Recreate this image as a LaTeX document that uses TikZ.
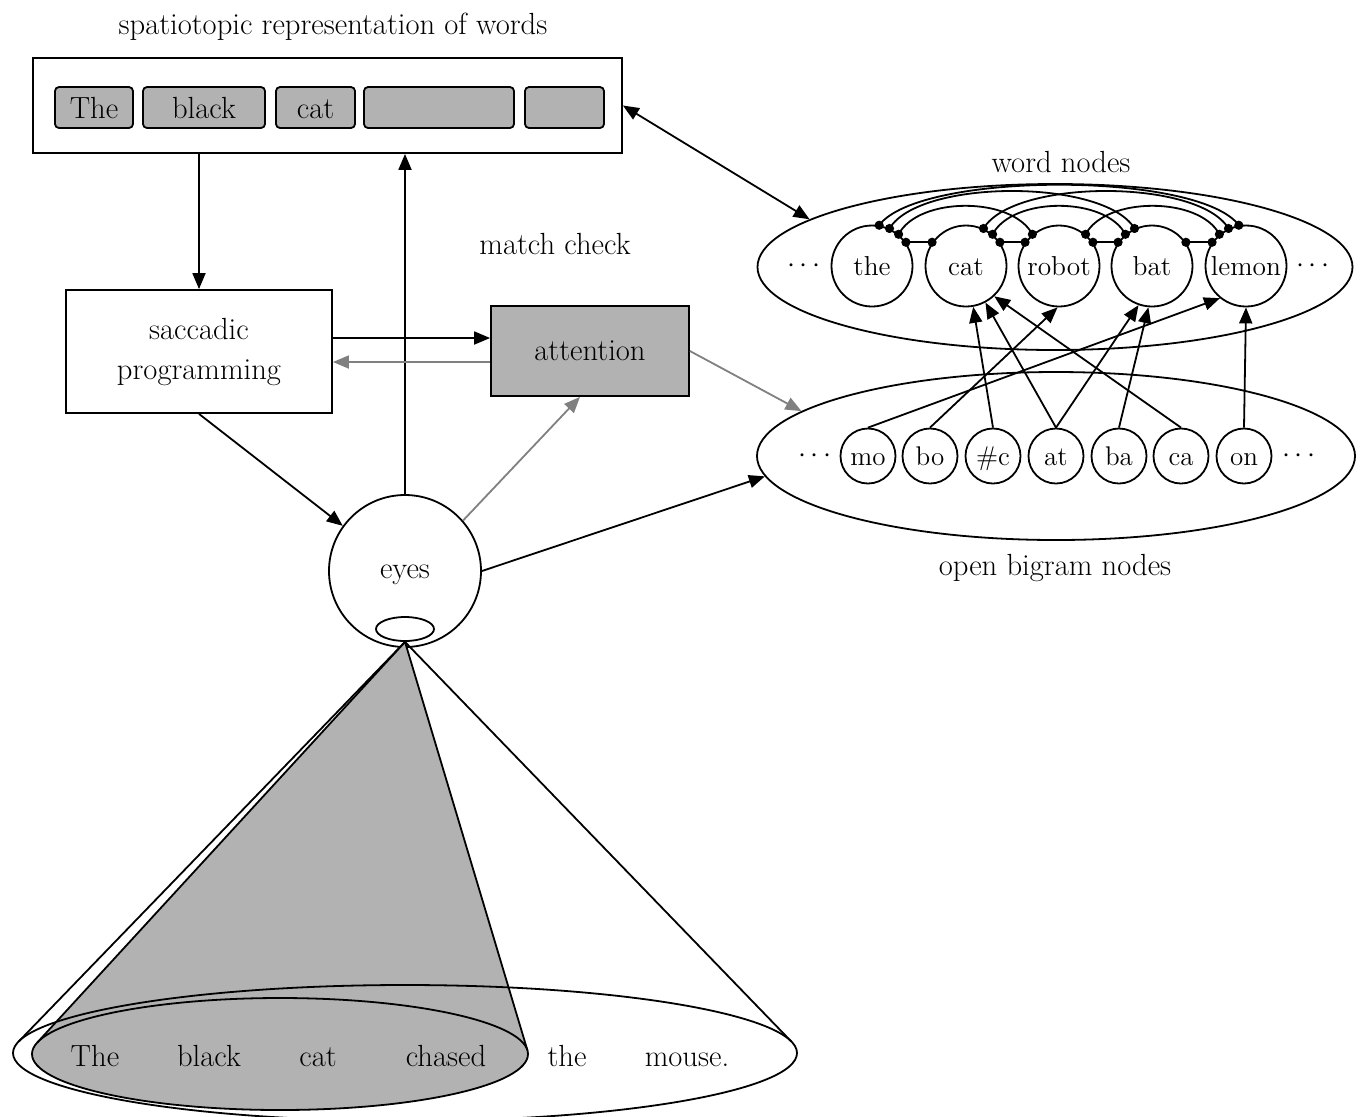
\documentclass[tikz,border=0pt]{standalone}
\usetikzlibrary{arrows.meta,shapes.geometric,calc}
\definecolor{boxgray}{gray}{0.70}
\definecolor{arrgray}{gray}{0.50}
\begin{document}
\begin{tikzpicture}[x=0.5pt,y=-0.5pt,
  every node/.style={font=\fontsize{15.3}{20}\selectfont},
  lw/.style={line width=0.9pt},
  arr/.style={lw,-{Triangle[length=8pt,width=6.5pt]}},
  garr/.style={arr,color=arrgray},
  darr/.style={lw,{Triangle[length=8pt,width=6.5pt]}-{Triangle[length=8pt,width=6.5pt]}},
  wbox/.style={draw,lw,fill=boxgray,rounded corners=2pt,minimum height=20.5pt,inner sep=0pt,text height=10.5pt,text depth=0pt},
  wcirc/.style={circle,draw,lw,minimum size=40.5pt,inner sep=0pt,font=\fontsize{13.7}{16}\selectfont,text height=9.5pt,text depth=0pt},
  bcirc/.style={circle,draw,lw,minimum size=27.5pt,inner sep=0pt,font=\fontsize{13.5}{16}\selectfont,text height=9pt,text depth=0pt},
  bigell/.style={ellipse,draw,lw,inner sep=0pt}]
\useasboundingbox (0,0) rectangle (1362,1116);

% ---------- spatiotopic representation ----------
\node (title) at (333,27) {spatiotopic representation of words};
\node[draw,lw,minimum width=294.5pt,minimum height=47.5pt,inner sep=0pt] (sp) at (327.5,105.5) {};
\node[wbox,minimum width=39pt] (w1) at (94,107.5) {The};
\node[wbox,minimum width=61pt] (w2) at (204,107.5) {black};
\node[wbox,minimum width=39.5pt] (w3) at (315.5,107.5) {cat};
\node[wbox,minimum width=75pt] (w4) at (439,107.5) {};
\node[wbox,minimum width=39.5pt] (w5) at (564.5,107.5) {};

% ---------- control boxes ----------
\node[draw,lw,minimum width=133pt,minimum height=61.5pt,align=center,inner sep=0pt] (sac) at (199,351.5) {saccadic\\programming};
\node[draw,lw,fill=boxgray,minimum width=99pt,minimum height=45pt,inner sep=0pt] (att) at (590,351) {attention};
\node (mc) at (555,244) {match check};

% ---------- eyes ----------
\node[circle,draw,lw,minimum size=76pt,inner sep=0pt,text height=7pt,text depth=0pt] (eyes) at (405,571) {eyes};
\node[ellipse,draw,lw,minimum width=29pt,minimum height=12pt,inner sep=0pt] (pupil) at (405,629) {};

% ---------- word nodes ----------
\node (wnl) at (1061,162) {word nodes};
\node[bigell,minimum width=297.5pt,minimum height=83pt] (wn) at (1055,267) {};
\foreach \n/\x in {the/872,cat/966,robot/1059,bat/1152,lemon/1246}
  \node[wcirc] (\n) at (\x,266) {\n};
\node (wdl) at (804,266) {$\cdots$};
\node (wdr) at (1313,266) {$\cdots$};

% inhibitory links
\draw[lw] (the.35) -- (cat.145);
\draw[lw] (cat.35) -- (robot.145);
\draw[lw] (robot.35) -- (bat.145);
\draw[lw] (bat.35) -- (lemon.145);
\draw[lw] (the.50) .. controls +(20,-38) and +(-20,-38) .. (robot.130);
\draw[lw] (cat.50) .. controls +(20,-38) and +(-20,-38) .. (bat.130);
\draw[lw] (robot.50) .. controls +(20,-38) and +(-20,-38) .. (lemon.130);
\draw[lw] (the.65) .. controls +(30,-50) and +(-30,-50) .. (bat.115);
\draw[lw] (cat.65) .. controls +(30,-50) and +(-30,-50) .. (lemon.115);
\draw[lw] (the.80) .. controls +(40,-54) and +(-40,-54) .. (lemon.100);
\foreach \p in {the.35,the.50,the.65,the.80,cat.145,cat.35,cat.50,cat.65,
  robot.145,robot.130,robot.35,robot.50,bat.145,bat.130,bat.115,bat.35,
  lemon.145,lemon.130,lemon.115,lemon.100}
  \fill (\p) circle[radius=2.3pt];

% ---------- open bigram nodes ----------
\node[bigell,minimum width=299pt,minimum height=84pt] (bn) at (1056,456) {};
\foreach \n/\t/\x in {mo/mo/868,bo/bo/930,hc/\#c/993,at/at/1056,ba/ba/1119,ca/ca/1181,on/on/1244}
  \node[bcirc] (\n) at (\x,456) {\t};
\node (bdl) at (815,456) {$\cdots$};
\node (bdr) at (1299,456) {$\cdots$};
\node (bnl) at (1055,568) {open bigram nodes};

% bigram -> word connections
\draw[arr] (mo.north) -- (lemon.231);
\draw[arr] (bo.north) -- (robot.268);
\draw[arr] (hc.north) -- (cat.280);
\draw[arr] (at.north) -- (cat.298);
\draw[arr] (at.north) -- (bat.251);
\draw[arr] (ba.north) -- (bat.265);
\draw[arr] (ca.north) -- (cat.313);
\draw[arr] (on.north) -- (lemon.south);

% ---------- main connectors ----------
\draw[arr] (sac.north |- sp.south) -- (sac.north);
\draw[arr] (eyes.north) -- (eyes.north |- sp.south);
\draw[arr] ($(sac.east)+(0,-13.5)$) -- ($(att.west)+(0,-13)$);
\draw[garr] ($(att.west)+(0,11)$) -- ($(sac.east)+(0,10.5)$);
\draw[arr] (sac.south) -- (eyes.144);
\draw[garr] (eyes.41) -- ($(att.south)+(-10,0)$);
\draw[garr] (att.east) -- (bn.170);
\draw[arr] (eyes.east) -- (bn.184);
\draw[darr] (sp.east) -- (wn.169);

% ---------- visual field cone ----------
\coordinate (apex) at (pupil.south);
\fill[boxgray] (apex) -- (37.3,1042.5) -- (527.4,1050.2) -- cycle;
\fill[boxgray] (280,1054) ellipse[x radius=124pt,y radius=28pt];
\draw[lw] (280,1054) ellipse[x radius=124pt,y radius=28pt];
\draw[lw] (apex) -- (37.3,1042.5);
\draw[lw] (apex) -- (527.4,1050.2);
\draw[lw] (405,1053) ellipse[x radius=196pt,y radius=34pt];
\draw[lw] (apex) -- (18.5,1041.7);
\draw[lw] (apex) -- (791.5,1041.7);
\foreach \t/\x [count=\i] in {The/95,black/209,cat/318,chased/446,the/567,mouse./687}
  \node[anchor=base] (s\i) at (\x,1066) {\t};
\end{tikzpicture}
\end{document}
